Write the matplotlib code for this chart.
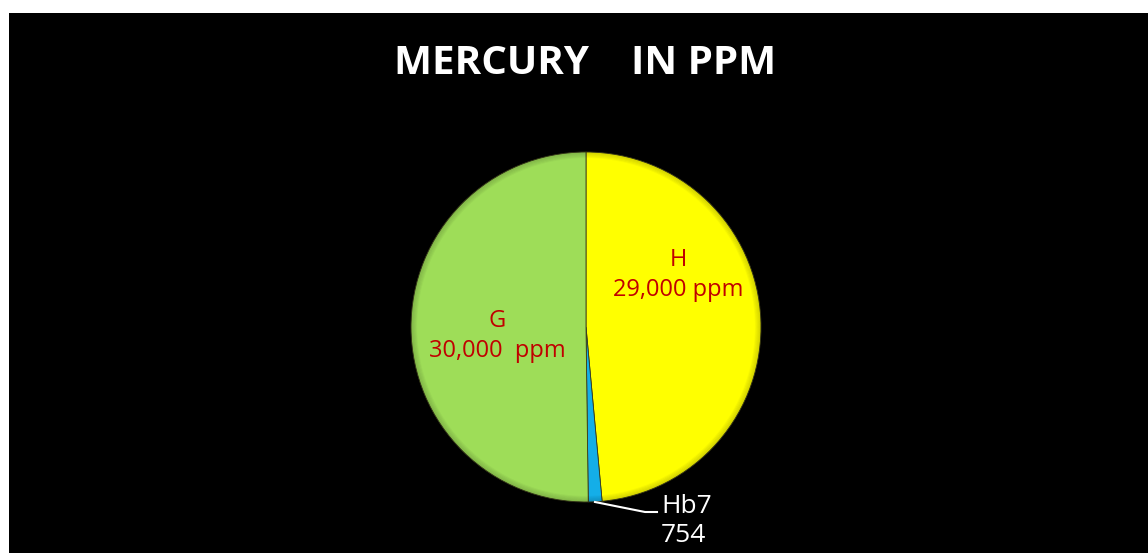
import matplotlib.pyplot as plt
from matplotlib.patches import Circle

# data
labels = ['H', 'Hb7', 'G']
values = [29000, 754, 30000]
value_text = ['29,000 ppm', '754', '30,000  ppm']
colors = ['#FFFF00', '#14AEE8', '#9EDD58']

plt.rcParams['font.family'] = ['Open Sans', 'DejaVu Sans']

W, H = 1148, 553
fig = plt.figure(figsize=(W / 100, H / 100), dpi=100)
fig.patch.set_facecolor('white')

# black slide area
bg = fig.add_axes([9 / W, 0, 1 - 9 / W, 1 - 13 / H], zorder=0)
bg.set_facecolor('black')
bg.set_xticks([])
bg.set_yticks([])
for s in bg.spines.values():
    s.set_visible(False)

fig.text(585 / W, 1 - 64 / H, 'MERCURY    IN PPM', color='white', fontsize=29,
         fontweight='bold', ha='center', va='center', zorder=5)

cx, cy, r = 586, 327, 175
ax = fig.add_axes([(cx - r) / W, (H - cy - r) / H, 2 * r / W, 2 * r / H], zorder=2)
ax.set_facecolor('none')
wedges, _ = ax.pie(values, colors=colors, startangle=90, counterclock=False,
                   wedgeprops=dict(edgecolor='#3a3a1a', linewidth=0.6))
# soft bevel near the rim
for i in range(6):
    ax.add_patch(Circle((0, 0), 1 - i * 0.006, fill=False, edgecolor='black',
                        linewidth=1.2, alpha=0.12 - i * 0.018))
ax.set_xlim(-1, 1)
ax.set_ylim(-1, 1)
ax.axis('off')

red = '#C00000'
ax.text(0.526, 0.297, labels[0] + '\n' + value_text[0], color=red, fontsize=17,
        ha='center', va='center', linespacing=1.35)
ax.text(-0.505, -0.05, labels[2] + '\n' + value_text[2], color=red, fontsize=17,
        ha='center', va='center', linespacing=1.35)

# Hb7 label with leader line
ax.plot([(595 - cx) / r, (645 - cx) / r, (657 - cx) / r],
        [(cy - 502) / r, (cy - 512) / r, (cy - 512) / r], color='white', lw=1.5, clip_on=False)
ax.text((661 - cx) / r, (cy - 521) / r, labels[1] + '\n' + value_text[1], color='white',
        fontsize=19, ha='left', va='center', linespacing=1.2)

fig.savefig('out.png', dpi=100, facecolor=fig.get_facecolor())
